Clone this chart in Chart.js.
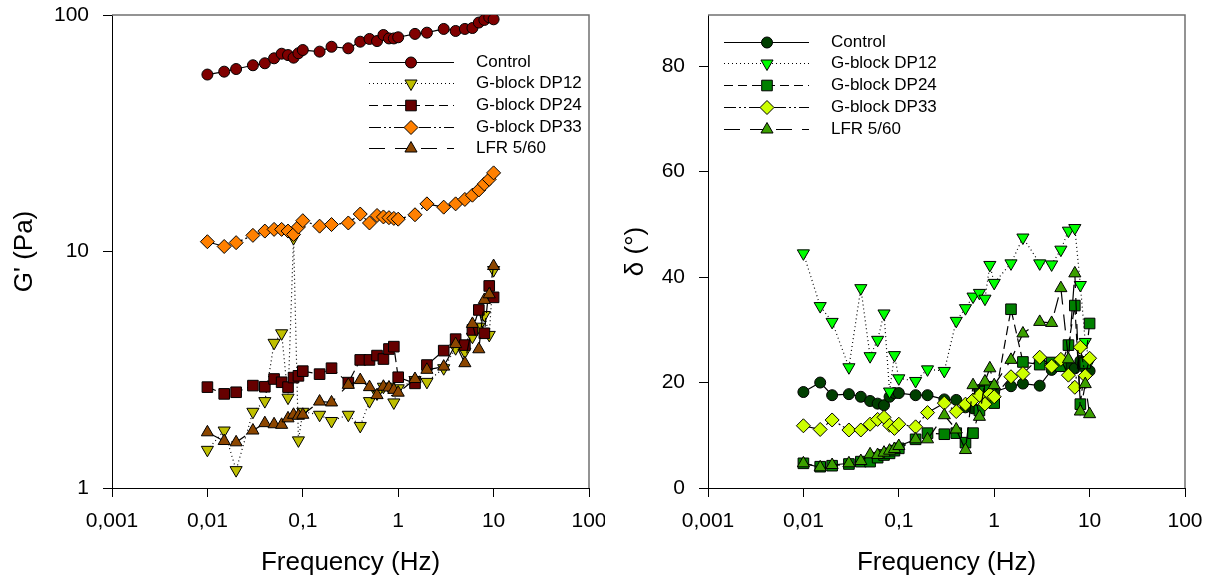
<!DOCTYPE html>
<html>
<head>
<meta charset="utf-8">
<script src="https://cdn.jsdelivr.net/npm/chart.js@4"></script>
<style>
  html, body { margin: 0; padding: 0; background: #fff; }
  #wrap { position: relative; width: 1215px; height: 581px; }
  .panel { position: absolute; top: 0; height: 581px; }
  #leftPanel { left: 0; width: 605px; }
  #rightPanel { left: 605px; width: 610px; }
</style>
</head>
<body>
<div id="wrap">
  <div class="panel" id="leftPanel"><canvas id="gChart"></canvas></div>
  <div class="panel" id="rightPanel"><canvas id="dChart"></canvas></div>
</div>
<script>
// frequency sweep (Hz)
const freq = [0.01, 0.015, 0.02, 0.03, 0.04, 0.05, 0.06, 0.07, 0.08, 0.09,
              0.1, 0.15, 0.2, 0.3, 0.4, 0.5, 0.6, 0.7, 0.8, 0.9,
              1, 1.5, 2, 3, 4, 5, 6, 7, 8, 9, 10];
const seriesNames = ['Control', 'G-block DP12', 'G-block DP24', 'G-block DP33', 'LFR 5/60'];
const freqTicks = [0.001, 0.01, 0.1, 1, 10, 100];
const gTicks = [1, 10, 100];
const deltaTicks = [0, 20, 40, 60, 80];

// G' (Pa)
const gControl = [56, 57.6, 59.1, 61.3, 62.5, 65.6, 68.6, 67.7, 66, 68.9, 71.1, 70, 73.4, 72.3, 77.1, 79.2, 77.6, 82.3, 79.6, 79.6, 80.5, 83.2, 84.2, 87.3, 85.6, 87.3, 88.1, 92.9, 95.3, 97.8, 95.9];
const gDP12 = [1.45, 1.75, 1.19, 2.10, 2.33, 4.11, 4.51, 2.41, 11.4, 1.59, 2.10, 2.04, 1.92, 2.04, 1.83, 2.33, 2.51, 2.68, 2.68, 2.30, 2.64, 2.86, 2.81, 3.21, 3.90, 3.77, 4.36, 4.81, 5.39, 4.44, 8.35];
const gDP24 = [2.67, 2.50, 2.54, 2.71, 2.68, 2.89, 2.80, 2.67, 2.93, 2.98, 3.12, 3.03, 3.21, 2.79, 3.48, 3.48, 3.63, 3.51, 3.87, 3.96, 2.94, 2.77, 3.31, 3.81, 4.26, 4.02, 4.66, 5.66, 4.51, 7.15, 6.40];
const gDP33 = [11.0, 10.5, 10.9, 11.7, 12.2, 12.4, 12.4, 12.2, 11.8, 12.7, 13.5, 12.8, 13.0, 13.2, 14.4, 13.2, 14.2, 14.0, 13.9, 13.8, 13.7, 14.3, 15.9, 15.4, 15.9, 16.6, 17.3, 18.2, 19.3, 20.2, 21.5];
const gLFR = [1.72, 1.58, 1.56, 1.75, 1.88, 1.86, 1.85, 1.97, 2.04, 2.02, 2.04, 2.32, 2.30, 2.73, 2.86, 2.67, 2.47, 2.68, 2.66, 2.60, 2.53, 2.89, 3.16, 3.26, 4.06, 3.37, 4.94, 3.86, 6.24, 6.59, 8.68];

// phase angle delta (deg)
const dControl = [18.2, 20.0, 17.6, 17.8, 17.3, 16.5, 16.0, 15.7, 17.3, 18.0, 18.0, 17.6, 17.6, 16.8, 16.7, 15.3, 15.1, 18.6, 19.2, 18.1, 18.2, 19.3, 19.8, 19.4, 22.4, 23.1, 23.1, 22.7, 24.1, 22.7, 22.2];
const dDP12 = [44.5, 34.5, 31.5, 22.9, 37.9, 25.0, 28.1, 33.1, 18.3, 25.2, 20.8, 20.3, 22.5, 22.2, 31.7, 34.1, 36.3, 37.0, 35.9, 42.3, 38.9, 42.6, 47.5, 42.6, 42.4, 45.2, 48.8, 49.3, 38.5, 27.7, 24.0];
const dDP24 = [4.68, 4.04, 4.23, 4.55, 5.0, 5.0, 5.75, 6.26, 6.57, 7.08, 7.52, 9.23, 10.4, 10.2, 10.4, 8.6, 10.4, 14.7, 18.3, 19.2, 16.1, 33.9, 23.9, 23.4, 23.8, 23.1, 27.1, 34.6, 15.9, 23.7, 31.2];
const dDP33 = [11.8, 11.1, 12.9, 11.0, 11.0, 12.1, 13.0, 13.4, 11.9, 11.3, 12.1, 11.6, 14.3, 16.1, 14.5, 15.9, 16.7, 17.6, 15.9, 17.8, 17.3, 21.1, 21.7, 24.8, 23.1, 24.4, 21.4, 19.1, 26.7, 21.3, 24.6];
const dLFR = [4.68, 3.92, 4.36, 4.68, 5.12, 6.38, 6.26, 6.7, 7.08, 7.39, 7.96, 9.23, 9.23, 13.8, 11.1, 7.2, 19.5, 13.5, 20.2, 22.7, 19.5, 24.3, 29.3, 31.5, 31.3, 37.9, 24.4, 40.7, 14.5, 19.7, 14.0];

const fontFamily = "'Liberation Sans', Arial, sans-serif";

// marker + line style per series (same order as seriesNames)
const styles = [
  { pointStyle: 'circle',   rotation: 0,   radius: 5.5, dash: [] },
  { pointStyle: 'triangle', rotation: 180, radius: 7,   dash: [1, 3] },
  { pointStyle: 'rect',     rotation: 0,   radius: 7.5, dash: [9, 5] },
  { pointStyle: 'rectRot',  rotation: 0,   radius: 7,   dash: [12, 3, 2, 3, 2, 3] },
  { pointStyle: 'triangle', rotation: 0,   radius: 7,   dash: [16, 10] }
];
const gColors = ['#800000', '#BFBF00', '#660000', '#FF8000', '#8C4600'];
const dColors = ['#003F00', '#00FF00', '#008000', '#CCFF00', '#3CA000'];

function makeDatasets(valueLists, colors) {
  return valueLists.map((vals, i) => ({
    label: seriesNames[i],
    data: freq.map((f, j) => ({ x: f, y: vals[j] })),
    borderColor: '#000',
    borderWidth: 1.2,
    borderDash: styles[i].dash,
    backgroundColor: colors[i],
    pointStyle: styles[i].pointStyle,
    pointRotation: styles[i].rotation,
    pointRadius: styles[i].radius,
    pointHoverRadius: styles[i].radius,
    pointBackgroundColor: colors[i],
    pointBorderColor: '#000',
    pointBorderWidth: 1,
    fill: false,
    tension: 0,
    order: valueLists.length - i   // later series drawn on top
  }));
}

function freqAxis() {
  return {
    type: 'logarithmic',
    min: 0.001,
    max: 100,
    afterBuildTicks: s => { s.ticks = freqTicks.map(v => ({ value: v })); },
    afterFit: s => { s.height = 93; s.paddingLeft = 0; s.paddingRight = 0; },
    ticks: {
      autoSkip: false, maxRotation: 0, padding: 12, color: '#000',
      font: { family: fontFamily, size: 21 },
      callback: v => String(v).replace('.', ',')
    },
    grid: { drawOnChartArea: false, drawTicks: true, tickLength: 9, color: '#000' },
    border: { display: true, color: '#000', width: 1 },
    title: {
      display: true, text: 'Frequency (Hz)', color: '#000',
      font: { family: fontFamily, size: 26 }, padding: { top: 0, bottom: 3 }
    }
  };
}

function valueAxis(opts) {
  return {
    type: opts.type,
    min: opts.min,
    max: opts.max,
    afterBuildTicks: s => { s.ticks = opts.ticks.map(v => ({ value: v })); },
    afterFit: s => { s.width = opts.width; s.paddingTop = 0; s.paddingBottom = 0; },
    ticks: {
      autoSkip: false, padding: 14, color: '#000',
      font: { family: fontFamily, size: 21 },
      callback: v => String(v)
    },
    grid: { drawOnChartArea: false, drawTicks: true, tickLength: 9, color: '#000' },
    border: { display: true, color: '#000', width: 1 },
    title: {
      display: true, text: opts.title, color: '#000',
      font: { family: fontFamily, size: 26 }, padding: { top: opts.titlePad, bottom: 0 }
    }
  };
}

// gray top/right frame
const framePlugin = {
  id: 'frame',
  beforeDatasetsDraw(chart) {
    const a = chart.chartArea;
    const ctx = chart.ctx;
    ctx.save();
    ctx.strokeStyle = '#707070';
    ctx.lineWidth = 1.5;
    ctx.beginPath();
    ctx.moveTo(a.left, a.top);
    ctx.lineTo(a.right, a.top);
    ctx.lineTo(a.right, a.bottom);
    ctx.stroke();
    ctx.restore();
  }
};

// legend with line sample and marker in the middle
const lineLegendPlugin = {
  id: 'lineLegend',
  afterDraw(chart, args, opts) {
    const ctx = chart.ctx;
    chart.data.datasets.forEach((ds, i) => {
      const y = Math.round(opts.y0 + opts.dy * i) + 0.5;
      ctx.save();
      ctx.strokeStyle = '#000';
      ctx.lineWidth = 1.2;
      ctx.setLineDash(ds.borderDash);
      ctx.beginPath();
      ctx.moveTo(opts.x1, y);
      ctx.lineTo(opts.x2, y);
      ctx.stroke();
      ctx.setLineDash([]);
      ctx.fillStyle = ds.pointBackgroundColor;
      ctx.strokeStyle = '#000';
      ctx.lineWidth = 1;
      Chart.helpers.drawPoint(ctx, {
        pointStyle: ds.pointStyle, rotation: ds.pointRotation,
        radius: ds.pointRadius, borderWidth: 1
      }, opts.xm, y);
      ctx.fillStyle = '#000';
      ctx.font = '17px ' + fontFamily;
      ctx.textBaseline = 'middle';
      ctx.textAlign = 'left';
      ctx.fillText(ds.label, opts.xt, y);
      ctx.restore();
    });
  }
};

function commonOptions(yAxis, legendPos, rightPad) {
  return {
    responsive: true,
    maintainAspectRatio: false,
    animation: false,
    events: [],
    layout: { padding: { top: 15, right: rightPad, left: 0, bottom: 0 } },
    scales: { x: freqAxis(), y: yAxis },
    plugins: {
      legend: { display: false },
      tooltip: { enabled: false },
      lineLegend: legendPos
    }
  };
}

new Chart(document.getElementById('gChart'), {
  type: 'line',
  data: { datasets: makeDatasets([gControl, gDP12, gDP24, gDP33, gLFR], gColors) },
  options: commonOptions(
    valueAxis({ type: 'logarithmic', min: 1, max: 100, ticks: gTicks, width: 112, title: "G' (Pa)", titlePad: 9 }),
    { x1: 369, x2: 454, xm: 411, y0: 61.5, dy: 21.7, xt: 476 },
    16
  ),
  plugins: [framePlugin, lineLegendPlugin]
});

new Chart(document.getElementById('dChart'), {
  type: 'line',
  data: { datasets: makeDatasets([dControl, dDP12, dDP24, dDP33, dLFR], dColors) },
  options: commonOptions(
    valueAxis({ type: 'linear', min: 0, max: 89.7, ticks: deltaTicks, width: 103, title: 'δ (°)', titlePad: 15 }),
    { x1: 119, x2: 204, xm: 162, y0: 41.5, dy: 21.8, xt: 226 },
    30
  ),
  plugins: [framePlugin, lineLegendPlugin]
});
</script>
</body>
</html>
